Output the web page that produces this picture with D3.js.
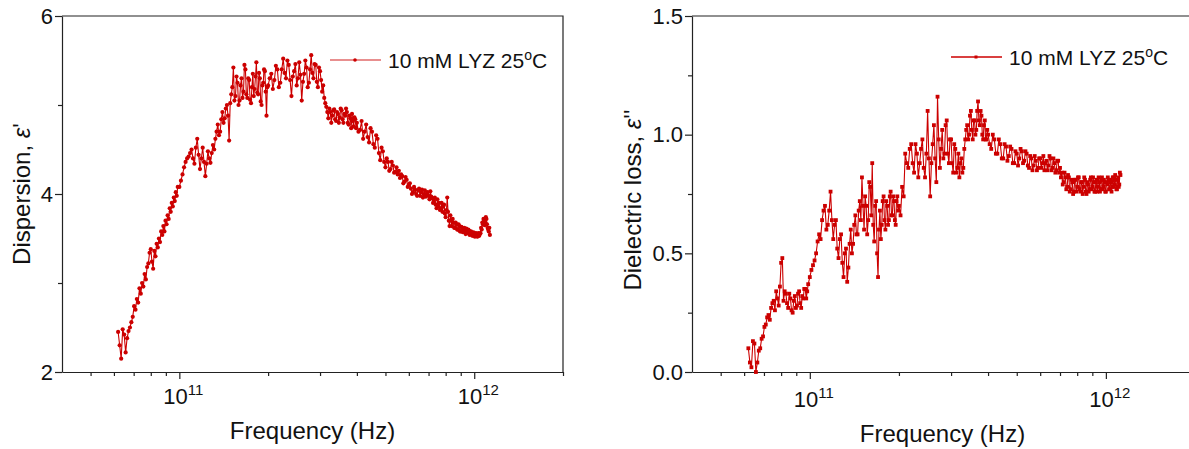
<html>
<head>
    <title>LYZ dielectric spectra</title>
</head>
<body style="margin: 0; background: #fff;">
    <svg id="chart" width="1189" height="449"></svg>
</body>

<script src="https://cdn.jsdelivr.net/npm/d3@7"></script>
<script>
// frequency grid, GHz
const freqGHz = [
    62, 62.75, 63.5, 64.25, 65, 65.75, 66.5, 67.25, 68, 68.75, 69.5, 70.25, 71, 71.75, 72.5, 73.25, 74, 74.75, 75.5, 76.25,
    77, 77.75, 78.5, 79.25, 80, 80.75, 81.5, 82.25, 83, 83.75, 84.5, 85.25, 86, 86.75, 87.5, 88.25, 89, 89.75, 90.5, 91.25,
    92, 92.75, 93.5, 94.25, 95, 95.75, 96.5, 97.25, 98, 98.75,
    100, 101.25, 102.5, 103.75, 105, 106.25, 107.5, 108.75, 110, 111.25, 112.5, 113.75, 115, 116.25, 117.5, 118.75, 120, 121.25, 122.5, 123.75,
    125, 126.25, 127.5, 128.75, 130, 131.25, 132.5, 133.75, 135, 136.25, 137.5, 138.75, 140, 141.25, 142.5, 143.75, 145, 146.25, 147.5, 148.75,
    150, 151.25, 152.5, 153.75, 155, 156.25, 157.5, 158.75, 160, 161.25, 162.5, 163.75, 165, 166.25, 167.5, 168.75, 170, 171.25, 172.5, 173.75,
    175, 176.25, 177.5, 178.75, 180, 181.25, 182.5, 183.75, 185, 186.25, 187.5, 188.75, 190, 191.25, 192.5, 193.75, 195, 196.25, 197.5, 198.75,
    200, 202.5, 205, 207.5, 210, 212.5, 215, 217.5, 220, 222.5, 225, 227.5, 230, 232.5, 235, 237.5, 240, 242.5, 245, 247.5,
    250, 252.5, 255, 257.5, 260, 262.5, 265, 267.5, 270, 272.5, 275, 277.5, 280, 282.5, 285, 287.5, 290, 292.5, 295, 297.5,
    300, 302.5, 305, 307.5, 310, 312.5, 315, 317.5, 320, 322.5, 325, 327.5, 330, 332.5, 335, 337.5, 340, 342.5, 345, 347.5,
    350, 352.5, 355, 357.5, 360, 362.5, 365, 367.5, 370, 372.5, 375, 377.5, 380, 382.5, 385, 387.5, 390, 392.5, 395, 397.5,
    400, 405, 410, 415, 420, 425, 430, 435, 440, 445, 450, 455, 460, 465, 470, 475, 480, 485, 490, 495,
    500, 505, 510, 515, 520, 525, 530, 535, 540, 545, 550, 555, 560, 565, 570, 575, 580, 585, 590, 595,
    600, 605, 610, 615, 620, 625, 630, 635, 640, 645, 650, 655, 660, 665, 670, 675, 680, 685, 690, 695,
    700, 705, 710, 715, 720, 725, 730, 735, 740, 745, 750, 755, 760, 765, 770, 775, 780, 785, 790, 795,
    800, 805, 810, 815, 820, 825, 830, 835, 840, 845, 850, 855, 860, 865, 870, 875, 880, 885, 890, 895,
    900, 905, 910, 915, 920, 925, 930, 935, 940, 945, 950, 955, 960, 965, 970, 975, 980, 985, 990, 995,
    1000, 1005, 1010, 1015, 1020, 1025, 1030, 1035, 1040, 1045, 1050, 1055, 1060, 1065, 1070, 1075, 1080, 1085, 1090, 1095,
    1100, 1105, 1110, 1115, 1120, 1125, 1130
];

// dispersion, eps'
const dispersion = [
    2.45, 2.30, 2.15, 2.48, 2.42, 2.22, 2.38, 2.46, 2.50, 2.56, 2.62, 2.74, 2.70, 2.82, 2.78, 2.94, 2.88, 3.00, 2.96, 3.10,
    3.04, 3.18, 3.22, 3.34, 3.38, 3.24, 3.16, 3.36, 3.30, 3.44, 3.40, 3.50, 3.46, 3.58, 3.54, 3.64, 3.58, 3.70, 3.66, 3.76,
    3.72, 3.84, 3.80, 3.90, 3.86, 3.96, 3.92, 4.02, 3.98, 4.08,
    4.08, 4.15, 4.22, 4.30, 4.36, 4.40, 4.42, 4.46, 4.50, 4.40, 4.34, 4.52, 4.62, 4.44, 4.28, 4.40, 4.52, 4.36, 4.20, 4.34,
    4.48, 4.40, 4.35, 4.46, 4.55, 4.50, 4.62, 4.70, 4.78, 4.66, 4.70, 4.84, 4.92, 4.80, 4.85, 4.96, 5.00, 4.88, 4.60, 5.02,
    5.12, 5.20, 5.42, 5.05, 5.10, 5.32, 5.25, 5.00, 5.05, 5.22, 5.30, 5.08, 5.15, 5.45, 5.40, 5.12, 5.08, 5.30, 5.28, 5.06,
    5.02, 5.20, 5.35, 5.10, 5.18, 5.32, 5.48, 5.14, 5.12, 5.36, 5.30, 5.04, 5.00, 5.22, 5.25, 5.40, 5.38, 5.15, 4.88, 5.20,
    5.22, 5.30, 5.35, 5.18, 5.28, 5.44, 5.40, 5.20, 5.25, 5.40, 5.52, 5.36, 5.30, 5.50, 5.45, 5.28, 5.10, 5.32, 5.38, 5.46,
    5.22, 5.30, 5.48, 5.34, 5.05, 5.26, 5.35, 5.50, 5.42, 5.20, 5.25, 5.40, 5.56, 5.36, 5.30, 5.46, 5.45, 5.26, 5.20, 5.42,
    5.38, 5.28, 5.15, 5.22, 5.08, 5.02, 4.98, 4.92, 4.85, 4.96, 4.92, 4.80, 4.88, 4.94, 4.95, 4.84, 4.82, 4.92, 4.90, 4.80,
    4.86, 4.96, 4.94, 4.84, 4.80, 4.90, 4.88, 4.96, 4.92, 4.80, 4.78, 4.88, 4.85, 4.74, 4.90, 4.82, 4.76, 4.86, 4.84, 4.74,
    4.80, 4.70, 4.72, 4.82, 4.62, 4.70, 4.78, 4.64, 4.58, 4.74, 4.70, 4.56, 4.52, 4.66, 4.62, 4.46, 4.38, 4.52, 4.48, 4.36,
    4.30, 4.40, 4.36, 4.26, 4.28, 4.36, 4.32, 4.24, 4.25, 4.30, 4.22, 4.26, 4.18, 4.22, 4.20, 4.12, 4.14, 4.19, 4.16, 4.08,
    4.10, 4.12, 4.06, 4.00, 4.02, 4.08, 4.05, 4.00, 3.98, 4.04, 4.06, 3.98, 4.02, 4.05, 3.96, 4.00, 4.04, 3.97, 4.00, 4.02,
    3.98, 3.94, 4.03, 3.97, 3.95, 3.90, 3.92, 3.96, 3.88, 3.84, 3.94, 3.86, 3.90, 3.82, 3.84, 3.90, 3.80, 3.86, 3.88, 3.78,
    3.74, 3.82, 3.96, 3.80, 3.70, 3.64, 3.76, 3.70, 3.64, 3.72, 3.68, 3.62, 3.62, 3.68, 3.66, 3.60, 3.60, 3.66, 3.64, 3.58,
    3.58, 3.63, 3.62, 3.57, 3.60, 3.62, 3.58, 3.55, 3.61, 3.58, 3.56, 3.60, 3.59, 3.54, 3.55, 3.58, 3.57, 3.53, 3.54, 3.57,
    3.56, 3.52, 3.53, 3.56, 3.55, 3.52, 3.54, 3.56, 3.53, 3.55, 3.56, 3.62, 3.60, 3.68, 3.66, 3.72, 3.70, 3.65, 3.68, 3.74,
    3.72, 3.66, 3.62, 3.60, 3.58, 3.62, 3.54
];

// dielectric loss, eps''
const loss = [
    0.10, 0.04, 0.02, 0.13, 0.12, 0.00, 0.04, 0.09, 0.10, 0.14, 0.15, 0.19, 0.20, 0.23, 0.24, 0.22, 0.27, 0.29, 0.30, 0.26,
    0.34, 0.31, 0.28, 0.36, 0.46, 0.48, 0.30, 0.34, 0.33, 0.29, 0.27, 0.33, 0.31, 0.26, 0.25, 0.30, 0.32, 0.27, 0.28, 0.33,
    0.34, 0.29, 0.27, 0.32, 0.31, 0.35, 0.35, 0.31, 0.34, 0.37,
    0.40, 0.43, 0.45, 0.47, 0.50, 0.55, 0.58, 0.56, 0.64, 0.68, 0.70, 0.60, 0.62, 0.68, 0.76, 0.64, 0.56, 0.62, 0.64, 0.52,
    0.48, 0.56, 0.58, 0.46, 0.40, 0.50, 0.52, 0.38, 0.44, 0.54, 0.60, 0.50, 0.54, 0.62, 0.66, 0.58, 0.58, 0.68, 0.72, 0.64,
    0.82, 0.70, 0.60, 0.74, 0.70, 0.58, 0.64, 0.80, 0.78, 0.66, 0.88, 0.62, 0.55, 0.70, 0.72, 0.50, 0.40, 0.60, 0.68, 0.56,
    0.62, 0.72, 0.74, 0.64, 0.60, 0.72, 0.70, 0.62, 0.64, 0.74, 0.76, 0.66, 0.66, 0.74, 0.72, 0.64, 0.62, 0.72, 0.74, 0.68,
    0.70, 0.66, 0.78, 0.74, 0.92, 0.88, 0.86, 0.94, 0.96, 0.88, 0.84, 0.96, 0.92, 0.82, 0.88, 0.94, 0.98, 0.86, 0.82, 0.92,
    1.10, 0.90, 0.74, 0.88, 0.96, 1.04, 0.90, 0.80, 1.16, 0.98, 0.86, 0.94, 1.02, 0.90, 0.92, 1.04, 1.06, 0.92, 0.88, 0.98,
    0.98, 0.88, 0.84, 0.96, 0.94, 0.84, 0.86, 0.92, 0.82, 0.88, 0.90, 0.84, 0.86, 0.94, 0.98, 1.02, 1.04, 0.98, 1.00, 1.08,
    1.10, 1.02, 0.98, 1.06, 1.06, 1.00, 1.02, 1.10, 1.14, 1.06, 1.04, 1.10, 1.08, 1.00, 0.98, 1.04, 1.06, 0.98, 0.98, 1.02,
    1.00, 0.96, 0.94, 1.00, 0.98, 0.92, 0.92, 0.98, 0.96, 0.90, 0.90, 0.96, 0.95, 0.89, 0.91, 0.95, 0.94, 0.88, 0.88, 0.93,
    0.92, 0.87, 0.90, 0.94, 0.93, 0.88, 0.89, 0.93, 0.92, 0.87, 0.86, 0.91, 0.90, 0.85, 0.87, 0.91, 0.89, 0.85, 0.86, 0.90,
    0.90, 0.86, 0.88, 0.91, 0.85, 0.88, 0.89, 0.85, 0.87, 0.91, 0.90, 0.85, 0.86, 0.90, 0.88, 0.84, 0.85, 0.89, 0.89, 0.84,
    0.86, 0.82, 0.84, 0.79, 0.80, 0.84, 0.82, 0.77, 0.78, 0.83, 0.82, 0.76, 0.77, 0.81, 0.80, 0.75, 0.76, 0.81, 0.81, 0.76,
    0.78, 0.82, 0.82, 0.77, 0.76, 0.80, 0.80, 0.75, 0.78, 0.82, 0.81, 0.76, 0.75, 0.80, 0.79, 0.76, 0.77, 0.81, 0.82, 0.77,
    0.78, 0.82, 0.80, 0.76, 0.76, 0.80, 0.81, 0.76, 0.78, 0.82, 0.80, 0.76, 0.77, 0.81, 0.82, 0.77, 0.78, 0.81, 0.80, 0.76,
    0.76, 0.80, 0.79, 0.82, 0.81, 0.77, 0.77, 0.81, 0.80, 0.76, 0.78, 0.82, 0.82, 0.78, 0.79, 0.83, 0.81, 0.77, 0.77, 0.81,
    0.82, 0.78, 0.79, 0.84, 0.83
];

const xDomain = [4e10, 2e12];
const xMajor = [1e11, 1e12];
const xMinor = [5e10, 6e10, 7e10, 8e10, 9e10, 2e11, 3e11, 4e11, 5e11, 6e11, 7e11, 8e11, 9e11, 2e12];
const xTitle = "Frequency (Hz)";
const legendText = ["10 mM LYZ 25", "o", "C"];

const red = "#cc0000";
const font = "'Liberation Sans', Arial, sans-serif";
const svg = d3.select("#chart");

function drawPanel(o) {
    const x = d3.scaleLog().domain(xDomain).range([o.left, o.right]);
    const y = d3.scaleLinear().domain(o.yDomain).range([o.bottom, o.top]);
    const g = svg.append("g").attr("font-family", font);

    // frame
    g.append("path")
        .attr("d", `M${o.left},${o.top}H${o.right}V${o.bottom}`)
        .attr("fill", "none")
        .attr("stroke", "#222")
        .attr("stroke-width", 1.2);

    g.append("g")
        .attr("transform", `translate(0,${o.bottom})`)
        .call(d3.axisBottom(x).tickValues(xMajor).tickFormat("").tickSize(7).tickSizeOuter(0));
    const xm = g.append("g")
        .attr("transform", `translate(0,${o.bottom})`)
        .call(d3.axisBottom(x).tickValues(xMinor).tickFormat("").tickSize(4).tickSizeOuter(0));
    xm.select(".domain").remove();

    const ya = g.append("g")
        .attr("transform", `translate(${o.left},0)`)
        .call(d3.axisLeft(y).tickValues(o.yMajor).tickFormat(d3.format(o.yFmt)).tickSize(7).tickSizeOuter(0));
    const ym = g.append("g")
        .attr("transform", `translate(${o.left},0)`)
        .call(d3.axisLeft(y).tickValues(o.yMinor).tickFormat("").tickSize(4).tickSizeOuter(0));
    ym.select(".domain").remove();

    g.selectAll(".domain, .tick line").attr("stroke", "#222").attr("stroke-width", 1.2);
    ya.selectAll(".tick text")
        .attr("font-family", font).attr("font-size", 22).attr("fill", "#111")
        .attr("x", -9);

    // power-of-ten labels
    xMajor.forEach(v => {
        const t = g.append("text")
            .attr("x", x(v) + o.xLabelDx)
            .attr("y", o.bottom + 32 + o.xLabelDy)
            .attr("text-anchor", "middle")
            .attr("font-size", 22)
            .attr("fill", "#111");
        t.append("tspan").text("10");
        t.append("tspan").attr("dy", -9).attr("font-size", 15).text(Math.round(Math.log10(v)));
    });

    g.append("text")
        .attr("x", (o.left + Math.min(o.right, 1189)) / 2 + o.titleDx)
        .attr("y", o.bottom + 67 + o.xLabelDy)
        .attr("text-anchor", "middle")
        .attr("font-size", 24)
        .attr("fill", "#111")
        .text(xTitle);

    const yt = g.append("text")
        .attr("transform", `translate(${o.yTitleX},${(o.top + o.bottom) / 2 + o.yTitleDy}) rotate(-90)`)
        .attr("text-anchor", "middle")
        .attr("font-size", 24)
        .attr("fill", "#111");
    yt.append("tspan").text(o.yTitle);
    yt.append("tspan").attr("font-style", "italic").text("\u03b5");
    yt.append("tspan").text(o.primes);

    // series
    const pts = o.values.map((v, i) => [freqGHz[i] * 1e9, v]);
    g.append("path")
        .datum(pts)
        .attr("fill", "none")
        .attr("stroke", red)
        .attr("stroke-width", 1.1)
        .attr("d", d3.line().x(d => x(d[0])).y(d => y(d[1])));

    if (o.marker === "circle") {
        g.append("g").attr("fill", red)
            .selectAll("circle").data(pts).join("circle")
            .attr("cx", d => x(d[0])).attr("cy", d => y(d[1])).attr("r", 2.1);
    } else {
        g.append("g").attr("fill", red)
            .selectAll("rect").data(pts).join("rect")
            .attr("x", d => x(d[0]) - 1.9).attr("y", d => y(d[1]) - 1.9)
            .attr("width", 3.8).attr("height", 3.8);
    }

    // legend
    const lx = o.legendX, ly = o.legendY;
    g.append("line")
        .attr("x1", lx).attr("x2", lx + 51).attr("y1", ly).attr("y2", ly)
        .attr("stroke", o.legendStroke).attr("stroke-width", 1.5);
    if (o.marker === "circle") {
        g.append("circle").attr("cx", lx + 25).attr("cy", ly).attr("r", 1.8).attr("fill", red);
    } else {
        g.append("rect").attr("x", lx + 23.5).attr("y", ly - 1.5).attr("width", 3).attr("height", 3).attr("fill", red);
    }
    const lt = g.append("text")
        .attr("x", lx + 58).attr("y", ly + 8)
        .attr("font-size", 21)
        .attr("fill", "#111");
    lt.append("tspan").text(legendText[0]);
    lt.append("tspan").attr("dy", -8).attr("font-size", 14).text(legendText[1]);
    lt.append("tspan").attr("dy", 8).text(legendText[2]);
}

drawPanel({
    left: 62, right: 563, top: 16, bottom: 372,
    yDomain: [2, 6], yMajor: [2, 4, 6], yMinor: [3, 5], yFmt: "d",
    values: dispersion, marker: "circle",
    yTitle: "Dispersion, ", primes: "'",
    yTitleX: 30, yTitleDy: 0,
    xLabelDx: 4, xLabelDy: 0, titleDx: 0,
    legendX: 330, legendY: 60, legendStroke: "#e06a6a"
});

drawPanel({
    left: 692, right: 1195, top: 16, bottom: 372,
    yDomain: [0, 1.5], yMajor: [0, 0.5, 1, 1.5], yMinor: [0.25, 0.75, 1.25], yFmt: ".1f",
    values: loss, marker: "square",
    yTitle: "Dielectric loss, ", primes: "''",
    yTitleX: 641, yTitleDy: 6,
    xLabelDx: 4, xLabelDy: 3, titleDx: 2,
    legendX: 951, legendY: 57, legendStroke: red
});
</script>
</html>
